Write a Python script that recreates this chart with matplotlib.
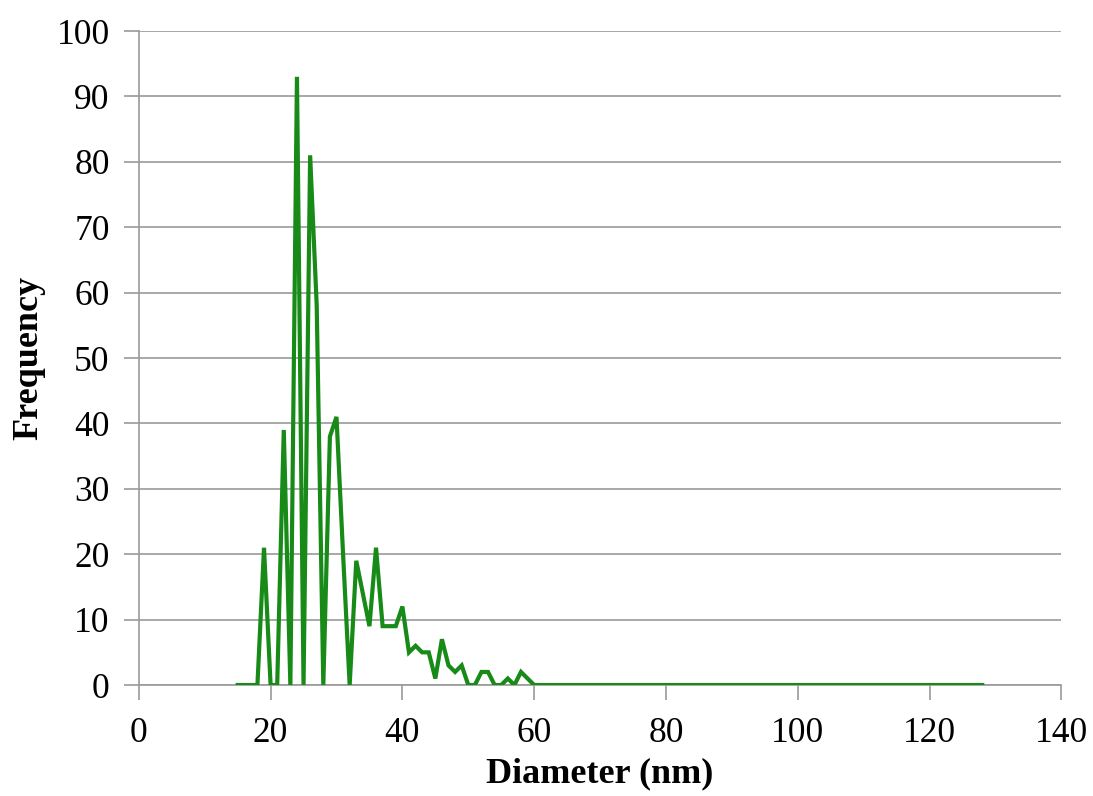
import matplotlib.pyplot as plt

# particle size distribution, one count per 1 nm diameter step
diameters = list(range(15, 129))
counts_head = [
    0, 0, 0, 0,      # 15-18
    21, 0, 0, 39,    # 19-22
    0, 93, 0, 81,    # 23-26
    58, 0, 38, 41,   # 27-30
    20, 0, 19, 14,   # 31-34
    9, 21, 9, 9,     # 35-38
    9, 12, 5, 6,     # 39-42
    5, 5, 1, 7,      # 43-46
    3, 2, 3, 0,      # 47-50
    0, 2, 2, 0,      # 51-54
    0, 1, 0, 2,      # 55-58
    1, 0,            # 59-60
]
frequency = counts_head + [0] * (len(diameters) - len(counts_head))

x_ticks = [0, 20, 40, 60, 80, 100, 120, 140]
y_ticks = [0, 10, 20, 30, 40, 50, 60, 70, 80, 90, 100]

plt.rcParams["font.family"] = ["Liberation Serif", "DejaVu Serif"]

fig = plt.figure(figsize=(10.93, 7.96), dpi=100)
ax = fig.add_axes([0.127, 0.1394, 0.844, 0.8216])

grid_color = "#9a9a9a"
ax.plot(diameters, frequency, color="#178a17", linewidth=3.0, solid_joinstyle="miter", zorder=3)

ax.set_xlim(0, 140)
ax.set_ylim(0, 100)
ax.set_xticks(x_ticks)
ax.set_yticks(y_ticks)
ax.yaxis.grid(True, color=grid_color, linewidth=1.2)
ax.set_axisbelow(True)

for side in ("top", "right"):
    ax.spines[side].set_visible(False)
for side in ("left", "bottom"):
    ax.spines[side].set_color(grid_color)
    ax.spines[side].set_linewidth(1.2)

ax.tick_params(axis="both", direction="out", length=11, width=1.2, color=grid_color,
               labelsize=25.5)
ax.tick_params(axis="x", pad=12)
ax.tick_params(axis="y", pad=10)

ax.set_xlabel("Diameter (nm)", fontsize=26, fontweight="bold", labelpad=5)
ax.set_ylabel("Frequency", fontsize=26, fontweight="bold", labelpad=8)

fig.savefig("out.png", dpi=100)
